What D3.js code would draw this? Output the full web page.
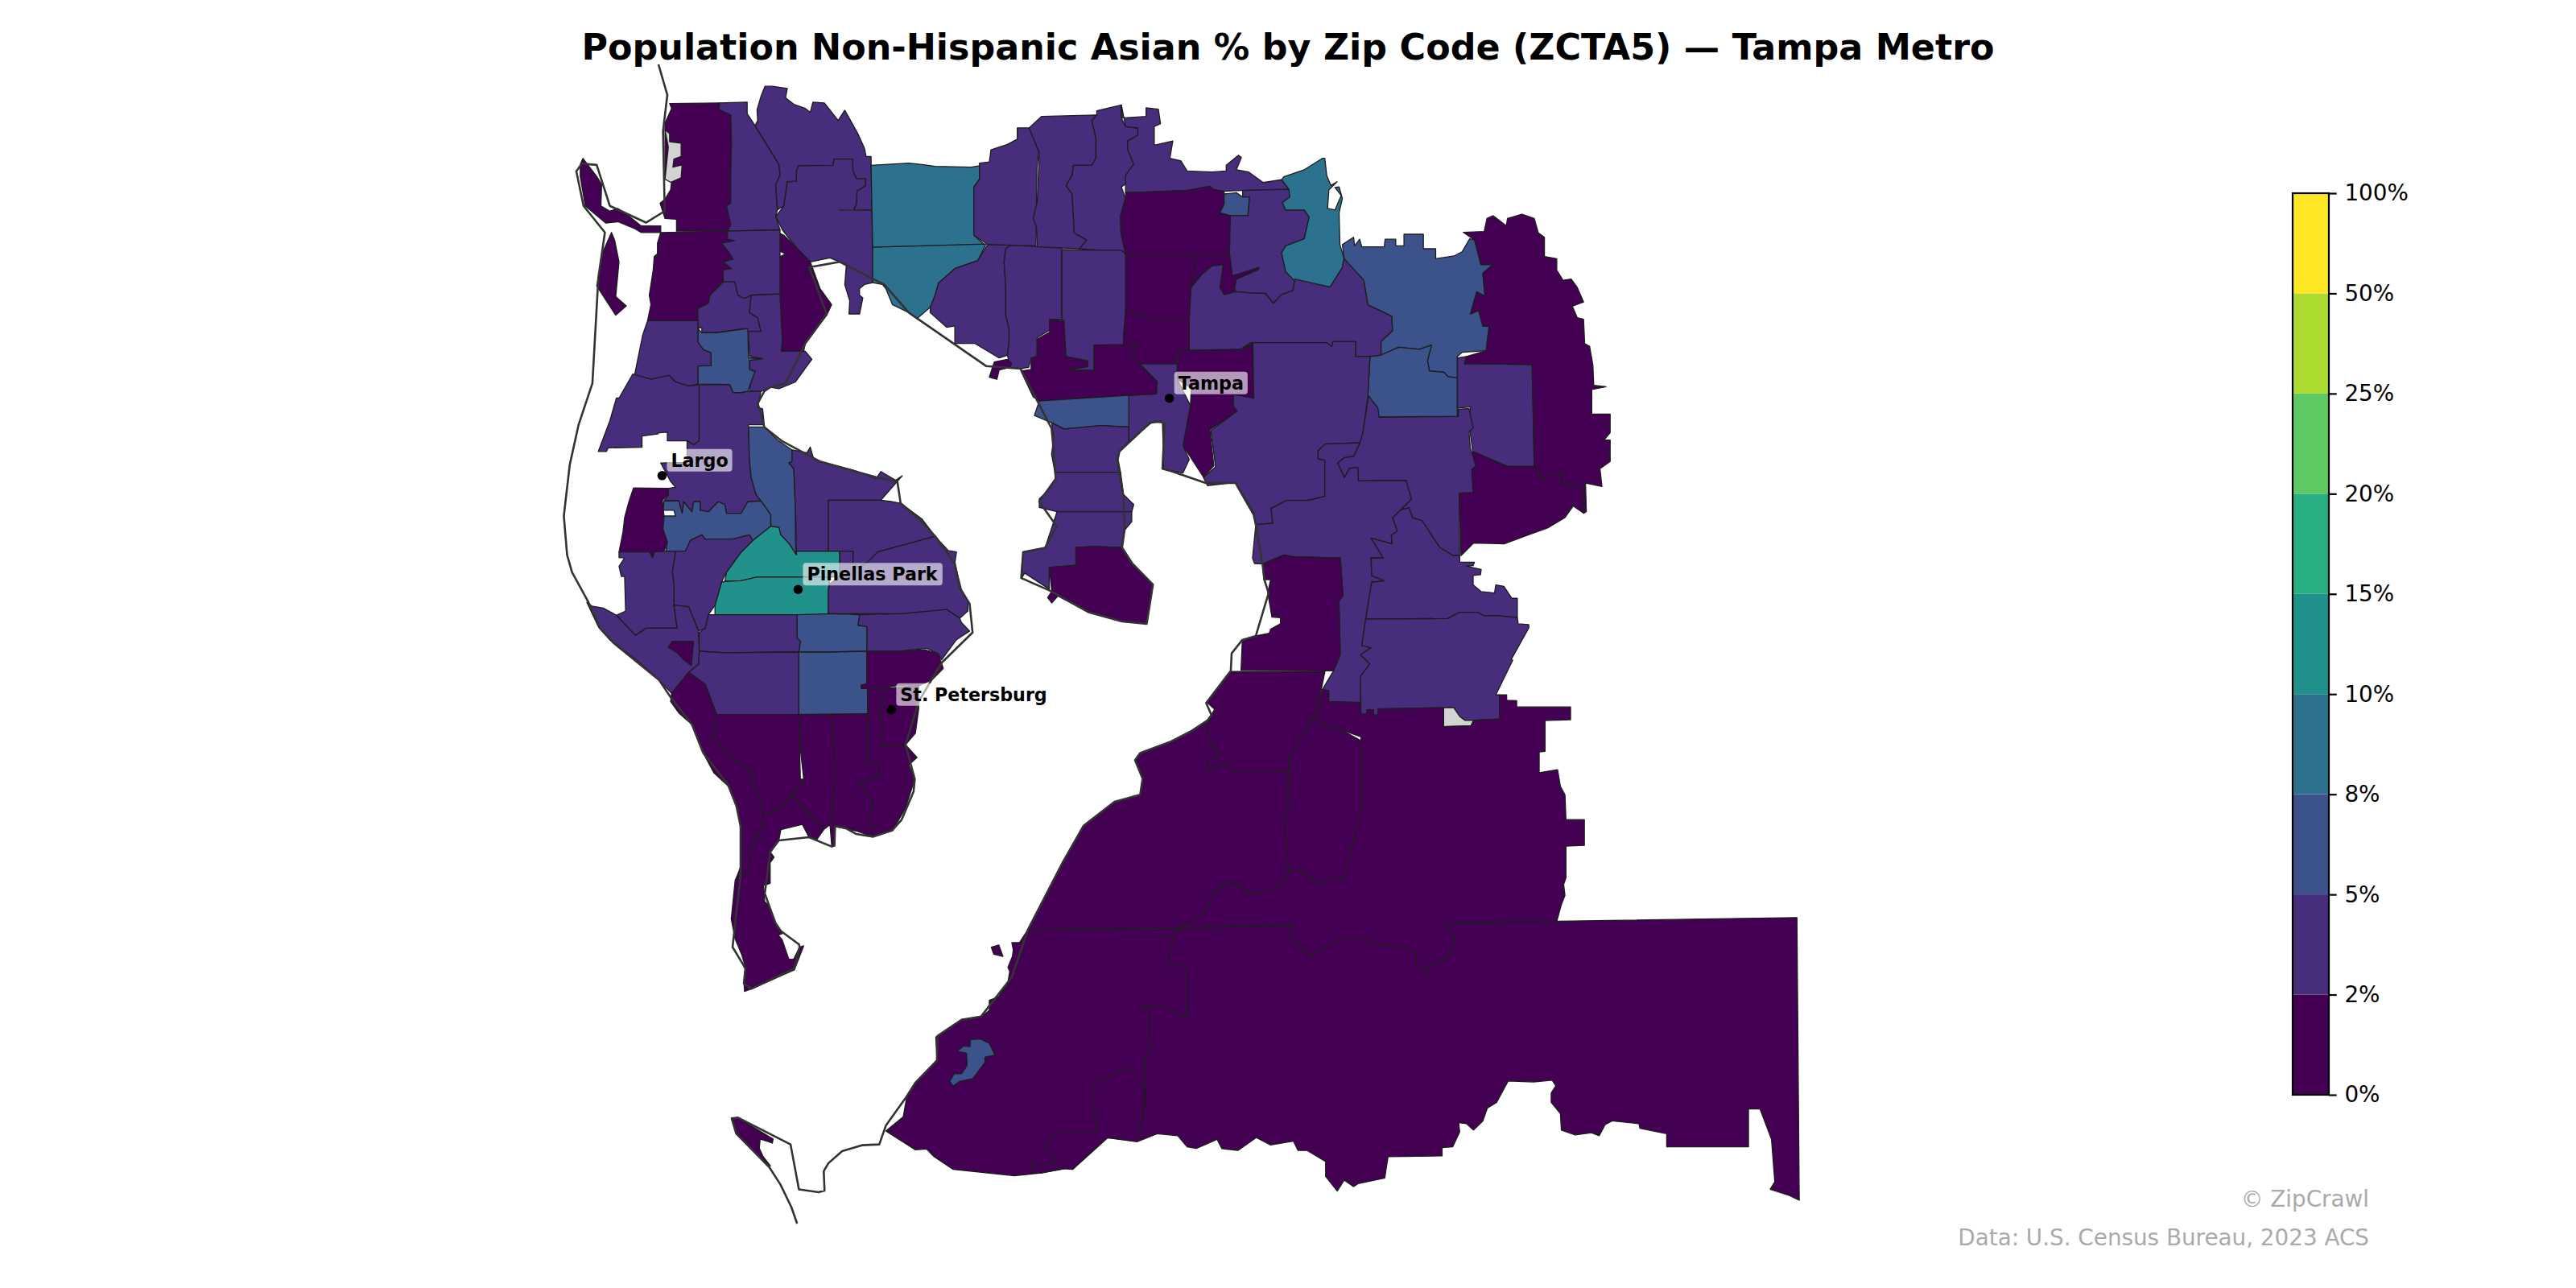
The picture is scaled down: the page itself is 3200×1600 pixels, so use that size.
<!DOCTYPE html>
<html>
<head>
<meta charset="utf-8">
<title>Population Non-Hispanic Asian % by Zip Code</title>
<script src="https://cdn.jsdelivr.net/npm/d3@7"></script>
<style>
  html, body { margin: 0; background: #fff; }
  text { font-family: "DejaVu Sans", sans-serif; }
</style>
</head>
<body>
<svg id="chart" width="3200" height="1600"></svg>
<script>
const chartTitle = "Population Non-Hispanic Asian % by Zip Code (ZCTA5) \u2014 Tampa Metro";
const footerLines = ["\u00a9 ZipCrawl", "Data: U.S. Census Bureau, 2023 ACS"];

// class breaks of the legend
const binEdges = [2, 5, 8, 10, 15, 20, 25, 50];
const binColors = ["#440154", "#472d7b", "#3b528b", "#2c728e", "#21918c", "#28ae80", "#5ec962", "#addc30", "#fde725"];
const tickLabels = ["0%", "2%", "5%", "8%", "10%", "15%", "20%", "25%", "50%", "100%"];
const noDataColor = "#d3d3d3";

// estimated share per zip, same order as zipRings (null = no data)
const zipPct = [
  1.5, 1.5, 1.5, 1.5, null, 3.5, 3.5, 3.5, 1.5, 3.5,
  3.5, 3.5, 6.5, 3.5, 3.5, 3.5, 6.5, 6.5, 12, 12,
  3.5, 3.5, 3.5, 3.5, 6.5, 6.5, 3.5, 3.5, 3.5, 1.5,
  3.5, 3.5, 1.5, 1.5, 1.5, 1.5, 1.5, 1.5, 1.5, 1.5,
  1.5, 9, 9, 3.5, 3.5, 3.5, 3.5, 3.5, 3.5, 1.5,
  6.5, 3.5, 9, 6.5, 6.5, 3.5, 1.5, 1.5, 1.5, 1.5,
  3.5, 1.5, 3.5, 1.5, 1.5, 3.5, 6.5, 1.5, 3.5, 3.5,
  3.5, 1.5, 3.5, 3.5, 3.5, 3.5, 3.5, null, 1.5, 1.5,
  1.5, 1.5, 1.5, 1.5, 1.5, 1.5, 6.5, 1.5, 1.5
];

// zip outlines, flat x,y lists in map units
const zipRings = [
  [407.6,63,438.2,62.7,437.8,66.8,444.8,70,445.2,86.3,444.8,107.4,444.8,123.7,442.2,125.3,444.8,136.7,442.8,140.7,411.8,140.7,411.8,133.4,404.8,133,401.8,123.7,404.8,121.2,408.2,115.5,408.8,110.7,404.8,109,404.8,79.8,404.8,74.9,408.8,66],
  [354.8,96.4,363.2,107.4,366.2,112.3,365.8,125.3,371.2,128.5,376.2,126.9,383.2,131.8,390.2,137.5,402.2,137.5,402.2,141.5,390.2,141.5,386.2,139.1,376.2,135,368.8,135.8,356.2,125.3,353.2,107.4,353.2,100.1],
  [372.2,141.5,374.2,146.4,376.8,159.4,374.8,180.5,381.2,186.2,374.8,191.9,363.2,174,367.2,152.9],
  [402.2,141.5,442.8,140.7,442.8,145.6,447.2,146.4,439.2,148,443.2,152.9,446.2,157.8,440.2,159.4,445.6,163.5,440.2,170.8,436.2,175.7,432.2,179.7,431.2,184.6,424.8,187.8,424.8,195.2,394.2,195.2,396.2,185.4,395.2,179.7,397.6,164.3,398.2,156.2,400.2,154.5,400.2,148],
  [404.8,79,407.6,81.4,407.6,86.3,414.6,87.1,414.6,95.2,410.2,96.8,409.6,101.7,415.2,100.4,414.6,108.2,408.2,111,404.8,109,406.8,89.5],
  [437.8,62.7,454.8,62.2,454.8,69.2,459.6,76.5,474.2,100.1,474.8,106.6,472.2,112.3,473.2,127.7,472.2,131.8,474.8,139.9,442.8,140.7,444.8,136.7,442.2,125.3,444.8,123.7,444.8,107.4,445.2,86.3,444.8,70,437.8,66.8],
  [459.6,76.5,461.2,73.3,460.8,66.8,463.2,58.7,465.6,52.5,470.2,52.5,479.2,53.8,478.2,59.5,483.2,63.5,490.2,66,493.2,68.4,494.8,62.2,501.8,62.7,510.2,73.3,514.2,67.1,522.2,81.4,526.2,90.3,527.2,95.2,530.2,95.2,530.8,128,519.6,127.7,521.2,124.5,521.6,116.3,526.8,113.1,526.8,108.7,521.2,108.7,519.2,104.2,518.8,96.8,507.6,96.8,507.2,100.6,486,100.9,484.8,104.2,484.8,110.3,479.2,110.7,477.2,125.3,473.2,127.7,472.2,112.3,474.8,106.6,474.2,100.1],
  [486,100.9,507.2,100.6,507.6,96.8,518.8,96.8,519.2,104.2,521.2,108.7,526.8,108.7,526.8,113.1,521.6,116.3,521.2,124.5,519.6,127.7,511.2,128,530.8,128,531.2,172.1,526.2,173.2,523.2,175.7,523.2,179.7,525.2,181.3,523.2,191.1,516.8,191.1,517.2,183,514.2,173.2,515.2,161,511.2,159.4,505.2,157,493.2,159.4,485.2,151.3,476.2,139.9,472.2,131.8,477.2,125.3,479.2,110.7,484.8,110.3,484.8,104.2],
  [474.8,142,477.2,143.2,485.2,151.3,493.2,159.4,499.2,175.7,506.2,185.4,503.2,191.9,490.2,209,489.2,213.8,480.2,213.8,475.6,213.8,476.2,208.2,474.8,201.7,474.8,156.2,478.2,154.5,474.8,152.9],
  [442.8,140.7,474.8,139.9,474.8,156.2,474.8,178.9,457.2,179.7,453.2,181.8,449.2,179.7,447.2,171.6,440.2,171.6,440.2,164.3,445.2,163.5,440.2,159.4,446.2,157.8,443.2,152.9,439.2,148,447.2,146.4,442.8,145.6],
  [440.2,171.6,447.2,171.6,449.2,179.7,453.2,181.8,457.2,179.7,456.2,190.3,461.2,193.5,463.2,201.7,455.2,201.7,453.2,200,436.2,202.5,427.2,202.5,427.2,199.2,424.8,200,424.8,187.8,431.2,184.6,432.2,179.7,436.2,175.7],
  [457.2,179.7,474.8,178.9,476.2,208.2,475.6,213.8,490.2,213.8,494.2,218.7,491.2,222.8,484.2,232.5,474.2,236.6,469.2,235.8,463.2,238.2,456.2,238.2,457.2,230.9,459.6,226,456.2,224.4,456.2,217.9,464.2,218.2,456.2,217,455.6,201.7,463.2,201.7,461.2,193.5,456.2,190.3],
  [424.8,200,427.2,202.5,436.2,202.5,455.2,200,455.6,217.9,464.2,218.2,456.2,219.5,456.2,225.2,459.6,226,457.2,232.5,455.2,238.2,451.2,239,446.2,239,444.2,234.1,424.8,233.8,424.8,222.8,432.8,222.5,432.8,214.7,428.2,213,424.8,208.2],
  [394.2,195.2,424.8,195.2,424.8,208.2,428.2,213,432.8,214.7,432.8,222.5,424.8,222.8,424.8,233.8,419.2,235,411.2,232.5,407.2,228.5,396.2,230.9,386.2,228.5,391.2,204],
  [385.2,227.7,396.2,230.9,407.2,228.5,411.2,232.5,419.2,235,425.6,234.2,425.6,268.3,422.2,270.7,418.2,268.3,406.2,268.3,406.2,263.1,401.2,263.4,400.2,264.2,390.8,265.4,390.8,272.3,370.2,272.6,369.2,274.8,364.2,274.8,371.2,256.1,375.2,242.3,376.8,242.3],
  [425.6,234.2,444.2,234.1,446.2,239,451.2,239,455.2,238.2,463.2,238.2,461.2,248,464.2,248.8,465.2,258.5,455.6,258.5,456.2,280,457.2,290.5,460.2,301,463.2,304.9,455.2,305.4,451.2,312.4,442.2,312.4,441.2,307.1,437.2,305.4,431.2,311.5,426.2,310.6,426.2,305.4,422.2,305.4,421.2,311.5,416.2,305.4,415.2,312.4,413.2,304.9,404.2,304.9,406.8,301,406.8,297.2,411.2,296.6,408.2,293.1,402.2,281.8,418.2,281.4,418.2,268.3,422.2,270.7,425.6,268.3],
  [404.2,304.9,413.2,304.9,415.2,312.4,416.2,305.4,421.2,311.5,422.2,305.4,426.2,305.4,426.2,310.6,431.2,311.5,437.2,305.4,441.2,307.1,442.2,312.4,451.2,312.4,455.2,305.4,463.2,304.9,469.2,313.3,469.2,320.3,458.2,329,456.2,325.5,446.2,328.1,429.2,328.1,427.2,325.5,420.2,329,417.2,335.5,405.2,335.5,406.2,329.9,403.2,322,403.6,314.1,411.2,314.1,410.2,310.6,403.6,310.6],
  [455.6,259.9,465.2,259.9,473.2,267.8,482.2,273.9,482.2,280.9,480.2,281.8,483.2,285.3,484.2,310.6,484.2,330.8,484.8,337.8,480.2,330.8,475.2,325.5,474.2,321.1,469.2,320.3,469.2,313.3,463.2,304.9,460.2,301,457.2,290.5,456.2,280],
  [469.2,320.3,474.2,321.1,475.2,325.5,480.2,330.8,484.8,337.8,484.8,335.5,511.2,335.5,511.2,350.9,505.2,351.2,461.2,351.2,451.2,353.5,441.2,353.9,442.2,348.3,451.2,336,458.2,329],
  [441.2,353.9,451.2,353.5,461.2,351.2,505.2,351.2,504.2,358.8,504.2,373.6,493.2,376.3,485.2,374.2,435.2,374.2,435.2,368.4,439.2,354.4],
  [482.2,273.9,491.2,275.6,493.2,272.1,495.2,279.1,499.2,280.9,519.2,286.1,533.2,291.4,536.2,287,545.2,292.3,549.2,289.6,546.8,292.3,536.2,304.5,504.2,304.5,504.2,335.5,484.8,335.5,484.2,310.6,483.2,285.3,480.2,281.8,482.2,280.9],
  [504.2,304.5,536.2,304.5,543.2,305.4,548.2,306.3,561.2,315.9,569.2,326.4,553.2,330.8,534.2,336,528.2,342.1,522.2,345.6,519.2,343,519.2,335.5,511.2,335.5,504.2,335.5],
  [522.2,345.6,528.2,342.1,534.2,336,553.2,330.8,569.2,326.4,577.2,335.1,582.2,336,581.2,343,585.2,358.8,589.2,365.8,589.2,371.9,584.2,376.3,576.2,371,549.2,373.6,523.2,373.6,504.2,373.6,504.2,358.8,505.2,355.3,511.2,350.9,511.2,335.5,519.2,335.5,519.2,343],
  [523.2,374.2,549.2,373.6,576.2,371,584.2,376.3,585.2,378.9,590.2,384.1,582.2,389.4,573.2,401.6,571.2,398.1,564.2,394.6,547.2,396.4,527.6,396.4,527.6,381.5,522.2,380.6],
  [485.2,374.2,504.2,373.6,523.2,374.2,522.2,380.6,527.6,381.5,527.6,396.4,505.2,396.9,486.2,396.9,487.2,390.3,485.2,388.5],
  [486.2,396.9,505.2,396.9,527.6,396.4,528.2,434.4,486.2,434.9],
  [431.2,374.2,485.2,374.2,485.2,388.5,487.2,390.3,486.2,396.9,441.2,397.3,425.6,396.4,425.6,385,429.2,382.4],
  [425.2,396.4,441.2,397.3,486.2,396.9,486.2,434.9,436.2,434.9,429.2,416.5,419.2,409.2,425.2,404.3],
  [411.2,335.5,417.2,335.5,420.2,329,427.2,325.5,429.2,328.1,446.2,328.1,456.2,325.5,458.2,329,451.2,336,442.2,348.3,439.2,354.4,435.2,368.4,431.2,374.2,429.2,382.4,425.2,384.1,419.2,369.3,410.2,368.4,410.2,355.3,409.2,348.3],
  [385.6,297,406.8,297.2,406.8,301,403.2,304.5,404.2,314.1,403.6,322,406.2,329.9,404.2,335.5,398.2,336,397.2,339.5,395.2,336,376.8,336,379.2,323.8,380.2,315,382.8,305.4],
  [376.8,336,395.2,336,397.2,339.5,398.2,336,411.2,335.5,409.2,348.3,410.2,355.3,410.2,368.4,412.2,382.4,393.2,382.4,386.8,386.8,375.2,374.5,380.8,371.9,380.2,350.9,378.2,350.9,376.8,344.8,380.2,339.5,376.8,339.5],
  [357.2,366.6,360.2,368.9,367.2,370.1,375.2,374.5,386.8,386.8,393.2,382.4,412.2,382.4,410.2,368.4,419.2,369.3,425.2,384.1,425.6,396.4,425.2,404.3,419.2,409.2,408.8,422.1,401.2,413.9,387.2,401.6,371.2,389.4,364.2,381.5],
  [409.2,390.3,422.2,390.3,420.8,405.1,416.2,401.6,412.2,397.3,406.8,394.1],
  [527.6,396.4,547.2,396.4,563.2,395.5,571.2,398.1,574.2,406.9,567.2,413.9,559.2,417.4,545.6,417.4,540.2,418.3,536.2,419.1,528.2,419.1,524.2,419.1,524.2,416.9,527.6,416.2],
  [536.2,419.1,559.2,417.4,559.2,431.4,557.2,446.3,551.2,453.3,536.2,454.1],
  [528.2,419.1,536.2,419.1,536.2,454.1,551.2,453.3,558.2,461.1,553.2,465.5,556.8,474.3,551.2,491.8,543.2,505.8,531.2,509.3,529.2,498.8,531.2,486.5,523.2,477.8,535.2,470.8,534.2,464.6,528.2,463.8,528.2,434.4],
  [506.2,434.9,528.2,434.4,528.2,463.8,534.2,464.6,535.2,470.8,523.2,477.8,531.2,486.5,529.2,498.8,531.2,509.3,521.2,505.8,508.2,503.1,506.2,497,508.2,472.5],
  [486.2,434.9,506.2,434.9,508.2,472.5,506.2,497,508.2,503.1,507.9,514.8,506.3,515.3,505.2,502,501.4,505,481.8,483.5,489.2,474.3,487.2,456],
  [436.2,434.9,486.2,434.9,487.2,474.3,489.2,474.3,481.8,483.5,472.8,493.3,464.7,495.7,463.2,490,455.2,467.3,445.2,461.9,433.2,448,435.2,441],
  [408.8,422.1,419.2,409.2,429.2,416.5,436.2,434.9,435.2,441,433.2,448,445.2,461.9,455.2,467.3,463.2,490,464.7,495.7,463.9,502.2,457.7,516.1,454.9,532.5,448.3,534.1,450.8,527.6,450.8,503,448.3,490.8,443.4,478.6,434.5,470.4,427.2,456.8,421.2,441,413.2,434,408.2,427],
  [464.7,495.7,472.8,493.3,481.8,483.5,501.4,505,497.3,510.9,492.4,509.6,488.4,501.8,475.3,505,474,512,468.8,518.6,471.2,521.8,468.8,525.1,468.8,537.7,464.7,539,465.5,548.8,468,551.2,472,561.8,476.1,568.4,473.7,569.2,476.1,572,480.2,583.9,483.1,583.9,486.7,576.5,489.2,575.7,483.5,590.4,457.3,601.9,453.2,603.5,452.8,597.8,453.7,588.8,451.6,581.4,447.5,571.6,445.1,559.4,447.5,535.7,448.3,534.1,454.9,532.5,457.7,516.1,463.9,502.2],
  [530.2,100.6,553.2,99.3,561.2,100.1,569.2,101.2,591.2,101.7,596.2,100.9,596.2,109,592.8,113.9,592.8,143.2,599.2,148.8,531.2,150.5],
  [531.2,150.5,600.2,148.5,595.2,158.6,581.2,163.5,571.2,172.4,569.2,179.7,566.2,187,558.2,193.9,553.2,190.3,543.2,185.4,539.2,175.7,537.2,173.2,531.2,172.1],
  [601.2,148.8,615.2,149.3,612.2,151.3,611.2,159.4,612.2,175.7,612.2,191.9,614.2,200,614.2,208.2,613.2,216.3,608.2,217.9,593.2,209,581.2,209,581.2,198.4,576.2,199.2,566.2,190.3,566.2,187,569.2,179.7,571.2,172.4,581.2,163.5,595.2,158.6],
  [615.2,149.3,631.2,150,646.2,150.5,646.2,194.3,639.2,194.3,639.2,200.8,631.2,205.7,631.2,216.3,627.2,219.5,626.2,223.6,621.2,224.4,615.2,223.6,613.2,216.3,614.2,208.2,614.2,200,612.2,191.9,612.2,175.7,611.2,159.4,612.2,151.3],
  [596.2,99.3,602.2,98.5,603.2,91.2,613.2,87.9,619.2,84.7,619.2,77.8,626.8,77.8,632.2,92,631.2,102.5,630.6,149.7,601.2,148.8,592.8,143.2,592.8,113.9,596.2,109],
  [626.4,77.9,633.9,70.9,667.6,70,664.6,73.5,667.1,84,667.1,96.3,664.6,100.6,653.4,100.6,652.6,106.8,648.9,112.9,652.6,118.1,653.9,141.8,661.4,146.1,657.1,151.4,631.4,150.2,630.9,138.3,628.9,133,631.4,122.5,632.6,92.8],
  [667.6,70,667.6,67.4,682.6,63.9,682.6,71.8,685.1,77,692.6,77.9,692.6,82.3,686.4,85.8,686.4,91,690.1,99.8,688.9,109.4,682.6,113.8,685.1,120.8,682.1,131.3,682.6,143.5,685.1,154,680.1,152.3,670.1,152.3,657.1,151.4,661.4,146.1,653.9,141.8,652.6,118.1,648.9,112.9,652.6,106.8,653.4,100.6,664.6,100.6,667.1,96.3,667.1,84,664.6,73.5],
  [682.6,63.9,682.6,71.8,697.6,70.9,697.6,65.6,705.1,66.5,706.4,75.3,702.6,77,702.6,88.4,713.9,85.8,712.1,96.3,718.9,98,722.6,104.1,737.6,104.7,746.4,104.1,746.4,100.6,753.9,94.5,755.6,95.9,752.6,103.3,760.1,104.7,768.9,111.1,780.1,109.4,784.6,115.2,756.4,115.9,745.1,116.4,738.9,115.5,736.4,113.4,722.6,115.9,685.1,117.3,685.1,106.8,690.1,99.8,686.4,91,686.4,85.8,692.6,82.3,692.6,77.9,685.1,77],
  [685.1,117.3,722.6,115.9,736.4,113.4,738.9,115.5,745.1,116.4,745.1,124.3,742.6,129.5,748.9,131.3,748.4,154.9,685.1,154.9,682.1,140,682.1,131.3,685.1,120.8],
  [745.1,118.1,752.6,117.3,756.4,119.9,760.6,119.9,759.6,131.3,748.9,131.3,742.6,129.5,745.1,124.3],
  [756.4,115.9,784.6,115.2,785.1,119.9,780.6,123.4,782.6,127.8,793.9,127.8,796.9,132.1,793.9,145.3,782.6,149.6,780.1,154,782.6,165.4,788.1,169.8,787.1,176.8,780.1,179.4,775.1,184.6,770.1,178.5,763.9,178.5,752.1,177.6,751.4,175,752.6,169.8,765.6,164.2,766.4,162.8,750.1,168,748.4,154.9,748.9,131.3,759.6,131.3,760.6,119.9,756.4,119.9],
  [781.4,107.6,793.9,103.3,805.1,96.3,806.4,96.3,807.6,106.8,810.1,112.9,813.9,110.6,808.9,115.5,808.1,126.9,812.6,127.8,816.4,119,812.6,114.1,815.1,113.8,817.1,120.8,815.1,129.5,815.6,148.8,818.1,157.5,817.1,162.8,809.6,174.7,787.6,170.6,782.6,165.4,780.1,154,782.6,149.6,793.9,145.3,796.9,132.1,793.9,127.8,782.6,127.8,780.6,123.4,785.1,119.9,784.6,115.2,780.1,109.4],
  [817.1,148.8,823.9,144.4,824.6,149.6,827.6,145.6,828.9,150.2,842.6,150.2,843.1,145.6,849.6,145.6,849.6,149.6,854.6,149.6,854.6,142.6,866.4,142.6,866.4,151.4,873.9,151.4,873.9,157.5,885.1,155.8,890.1,153.1,894.6,145.3,897.6,146.1,901.4,161,908.9,161,902.6,166.3,903.9,180.3,898.9,177.6,895.1,191.1,900.1,189,902.6,198.6,906.4,198.6,904.6,213.5,890.1,214.4,887.1,217,887.1,230.1,881.4,229.3,878.9,226.6,870.1,225.8,868.9,219.6,871.4,210,863.9,212.6,851.4,211.4,840.6,216.1,840.6,207.9,847.6,201.3,847.1,192.5,832.6,185.5,830.1,170.6,818.1,157.5],
  [840.6,216.1,851.4,211.4,863.9,212.6,871.4,210,868.9,219.6,870.1,225.8,878.9,226.6,881.4,229.3,887.1,230.1,887.1,253.4,838.9,253.8,837.6,248.5,833.9,247.6,832.6,241.5,833.9,217],
  [887.1,217.9,892.6,217,891.4,221.4,901.4,221.4,932.6,221.9,933.9,283.9,917.6,283.9,896.4,274.8,893.9,255.5,895.1,247.6,887.1,248.5],
  [890.6,141.4,903.4,140.9,905.1,133,908.9,131.3,916.9,137.4,917.6,133,926.4,130.4,933.9,133,936.4,141.8,940.1,144.4,940.1,156.1,947.6,157.5,947.6,164.5,951.4,170.6,956.4,169.8,960.1,175,963.9,183.8,957.1,186.4,960.1,193.4,963.9,194.3,964.6,209.1,967.6,210.9,969.6,222.3,970.1,234.5,977.6,235.4,968.9,237.1,968.9,252,980.1,252,980.1,263.4,976.4,267.8,980.1,267.8,980.1,280.9,973.9,285.3,975.1,296.1,965.1,294,965.6,311.5,963.9,312.4,962.6,295.4,950.6,294,950.1,287,937.6,291.4,936.4,284.4,933.9,283.9,932.6,221.9,901.4,221.4,891.4,221.4,892.6,217,904.6,213.5,906.4,198.6,902.6,198.6,900.1,189,895.1,191.1,898.9,177.6,903.9,180.3,902.6,166.3,908.9,161,901.4,161,897.6,146.1],
  [896.4,274.8,917.6,283.9,933.9,283.9,936.4,284.4,937.6,291.4,950.1,287,950.6,294,962.6,295.4,963.9,312.4,957.6,308,952.6,315,942.6,321.1,928.4,326.3,915.9,331,897,330.5,889.3,338.3,888.7,313.6,888.1,300.1,895.6,299.6],
  [685.1,154.9,723.9,154.9,727.6,161,725.1,175,723.9,193.9,702.6,194.3,692.6,190.8,685.1,189],
  [723.9,154.9,748.4,154.9,750.1,168,766.4,162.8,765.6,164.2,752.6,169.8,751.4,175,752.1,177.6,745.1,179.4,742.6,175,744.6,161,737.6,161.9,731.4,167.1,725.1,175,727.6,161],
  [725.1,175,731.4,167.1,737.6,161.9,744.6,161,742.6,175,745.1,179.4,752.1,177.6,763.9,178.5,770.1,178.5,775.1,184.6,780.1,179.4,787.1,176.8,788.1,169.8,809.6,174.7,817.1,162.8,818.1,157.5,830.1,170.6,832.6,185.5,847.1,192.5,847.6,201.3,840.6,207.9,840.6,216.1,833.9,217,825.1,217,825.1,207.9,811.4,207.9,810.6,210.9,807.6,208.6,761.4,208.6,755.1,212.6,723.9,213.2,723.9,193.9],
  [716.8,213.5,756.4,212.6,762.6,209.1,763.1,242.4,751.4,241.5,753.1,250.3,736.4,261.6,738.9,283.5,732.6,290.5,720.1,271.3,724.6,246.8,725.1,236.3,716.8,231],
  [693.9,221.4,716.4,221.4,716.8,231,724.6,246.8,720.1,271.3,723.9,279.7,720.1,287.9,708.4,285.6,707.6,257.3,701.4,256.9,687.1,268.6,687.1,240.6,703.9,239.8,704.4,232.4],
  [685.1,189,692.6,190.8,702.6,194.3,723.9,193.9,723.9,213.2,716.4,213.2,716.4,221.4,693.9,221.4,688.9,217,693.9,209.7,683.9,209.7,683.9,203.9],
  [638.9,194.6,647.6,195.1,648.9,217,662.1,219.6,662.1,223.1,650.1,225.4,665.9,225.4,665.9,210,693.9,209.7,688.9,217,703.9,231.9,703.9,239.8,687.1,240.6,632.6,244.1,628.9,241.5,621.4,225.8,627.6,224.9,627.6,217.9,631.4,217,631.4,206.5,638.9,202.1],
  [646.4,151.9,670.1,152.3,682.6,152.3,685.1,154.9,685.1,189,683.9,203.9,683.9,209.7,665.9,210,665.9,225.4,650.1,225.4,662.1,223.1,662.1,219.6,648.9,217,647.6,195.1,646.4,195.1],
  [632.6,244.1,687.1,240.6,687.1,259.9,670.1,259,647.6,261.1,640.1,257.3,629.6,252.9],
  [605.2,220.3,613.2,218.7,615.8,221.2,614.8,223.6,608.2,225.2,606.8,230.9,602.2,229.6],
  [640.1,257.3,647.6,261.1,670.1,259,687.1,259.9,687.1,268.6,681.4,274.8,680.6,280,682.1,287.4,642.1,287.4,640.1,276.5,641.4,266],
  [642.1,287.4,682.1,287.4,683.9,301,690.1,307.1,688.9,311.5,643.4,311.5,632.6,308.9,632.6,303.6,638.9,297.5,642.6,291.4],
  [643.4,311.5,688.9,311.5,688.9,317.6,683.9,323.4,683,333.3,665.9,332.7,654.9,333.3,654.9,344,638.7,345.4,638.7,358.6,623.7,348.8,622.1,351.6,622.7,336.1,636.2,333.3],
  [654.9,333.3,665.9,332.7,683,333.3,689.3,343.1,701.8,355.8,698,379.7,683,378.3,662.7,372.7,644,362.8,640.2,367,637.7,363.7,640.2,360,638.7,345.4,654.9,344],
  [755.1,212.6,761.4,208.6,807.6,208.6,810.6,210.9,811.4,207.9,825.1,207.9,825.1,217,833.9,217,832.6,241.5,829.7,263,827.8,269.5,806.4,270.3,802.3,274.4,802.3,279.3,806.4,280.1,806.4,302.2,799.5,303.8,795.4,304.6,783.2,304.6,773.7,309.5,774.7,318.5,764.4,319.3,763.1,312,752.1,293.7,735,295.6,732.5,290.7,739.9,284.2,737,262.1,753,250.2,750.8,247.4,750.8,240.1,763.1,242.4,762.6,209],
  [839.5,254,887.7,253.5,887.7,249.1,894.2,248.6,896.7,260.5,894.2,263,895,272.8,898.3,283.4,895.8,285.8,896.7,299.7,888.2,300.2,888.5,338.1,884.4,338.1,876.3,333.2,865.6,316.9,859.9,315.2,857.5,309,852.6,310.3,859.1,303.8,855.8,292.4,826.8,292.7,826.4,284.5,821.5,285,818.3,290.7,814.2,281.7,818.3,278.5,824,277.7,827.8,269.5,829.7,263,833,240.9,838.7,248.3],
  [806.4,270.3,827.8,269.5,824,277.7,818.3,278.5,814.2,281.7,818.3,290.7,821.5,285,826.4,284.5,826.8,292.7,855.8,292.4,859.1,303.8,852.6,310.3,847.7,315.2,850.6,323.4,846.9,325.8,847.3,331.1,834.6,327.5,842,339.7,834.6,339.7,834.9,350.3,842.8,353.6,834.9,354.4,831.3,376.5,828.9,392.8,834.6,394.4,828.1,398.5,833.8,404.2,828.4,411.6,828.1,427.6,808.8,427.1,808.8,420.5,804.9,419.7,811.7,408.3,815.8,398.5,815,365.8,817.5,362.6,815.8,339.7,787.3,338.9,781.5,337.8,768.5,343.3,763.6,343,762.4,339.7,764.4,319.3,774.7,318.5,773.7,309.5,783.2,304.6,795.4,304.6,799.5,303.8,806.4,302.2,806.4,280.1,802.3,279.3,802.3,274.4],
  [852.6,310.3,857.5,309,859.9,315.2,865.6,316.9,876.3,333.2,884.4,338.1,888.5,338.1,888.5,342.2,897.5,342.2,896.7,344.3,892.6,344.6,901.6,346.6,901.2,349.8,896.7,350.3,896.7,356,901.6,360.1,909.7,360.9,910.5,356,915.4,356.9,920.3,364.2,923.6,364.2,923.6,376,912.2,374.8,903.2,374.8,899.1,372.7,888.5,372.7,881.1,376.5,831.3,376.9,834.9,354.4,842.8,353.6,834.9,350.3,834.6,339.7,842,339.7,834.6,327.5,847.3,331.1,846.9,325.8,850.6,323.4,847.7,315.2],
  [831.3,376.9,881.1,376.5,888.5,372.7,899.1,372.7,903.2,374.8,912.2,374.8,923.6,376,924.1,379.7,930.6,380.2,930.6,382.2,919.9,401.4,920.8,401.8,910.5,423,912.7,423,912.7,437.7,896.7,438.5,891.8,438.5,888.5,436.1,884.9,430.8,878.7,430.8,838.7,431.5,838.7,435.2,836.2,435.2,835.9,432,832.2,432,831.7,434.4,828.4,434.4,828.1,411.6,833.8,404.2,828.1,398.5,834.6,394.4,828.9,392.8],
  [878.7,430.8,884.9,430.8,888.5,436.1,891.8,438.5,897,438.5,895.4,441.8,878.7,442.3],
  [768.5,343.3,781.5,337.8,787.3,338.9,815.8,339.7,817.5,362.6,815,365.8,815.8,398.5,811.7,408.3,755.4,408,756.2,389.5,764.4,387.1,772.6,385.4,773.4,383,779.4,379.7,779.4,376,774.2,375.6,771.7,361,773.4,352.8,769.3,352.8],
  [748.7,408.7,806.5,408.7,801.8,431.7,784.6,461.3,784,469.7,750.2,469.7,749.6,465.5,742.4,465.5,735.2,470.3,734.6,462.7,742.4,459.9,736.2,451.4,734.6,440.2,739.3,431.7,734.6,427.5],
  [736.2,438.8,712.7,451.4,694,458.4,690.9,462.7,695.5,473.9,694,483.8,678.4,488,659.6,502.6,647.1,524.5,625.7,565.9,719,564.5,733,555.5,739.3,542,750.2,537.2,762.7,544.2,778.4,540,784.6,530.2,781.5,499.2,784,490.8,784,469.7,750.2,469.7,749.6,465.5,742.4,465.5,735.2,470.3,734.6,462.7,742.4,459.9,736.2,451.4,734.6,440.2],
  [784.6,461.3,801.8,431.7,802.8,439.3,816.6,444.2,828.4,450.8,828.4,496.4,817.4,534.4,803.4,537.2,790.9,530.2,784.6,530.2,781.5,499.2,784,490.8],
  [804.9,419.7,808.8,420.5,808.8,427.1,828.1,427.6,828.4,434.4,831.7,434.4,832.2,432,835.9,432,836.2,435.2,838.7,435.2,838.7,431.5,878.7,430.8,878.7,442.3,895.4,441.8,897,438.5,912.7,437.7,912.7,423,917.1,423,917.1,426.2,923.2,426.5,923.2,430.3,956,430.3,956,438.1,940.5,438.6,940.5,457.3,936.9,457.7,936.9,470.3,948.1,468.5,949.8,478.6,952.6,483.8,953.2,498.9,964.4,498.9,964.4,514.6,953.2,515,953.2,534.2,951.8,538.3,952.6,545,950.4,550.6,947.6,560.8,887.1,561.9,880.1,562.6,885.7,572,881.5,583.3,870.2,587.8,868.8,591.8,861.8,586.6,861.8,579.9,856.2,576.5,835.1,574.3,832.3,571.3,815.4,571.3,797.1,582.1,784.4,569.8,786.7,563.5,719,564.5,733,555.5,739.3,542,750.2,537.2,762.7,544.2,778.4,540,784.6,530.2,790.9,530.2,803.4,537.2,817.4,534.4,828.4,496.4,828.4,448.6,816.6,444.2,802.8,439.3,801.8,431.7],
  [947.6,560.8,1093.8,558.5,1095.2,730.6,1088.2,727.3,1077.5,723.9,1080.3,719.4,1078.3,693.5,1071.3,675,1064.3,675,1064.3,698,1014.5,698,1014.5,690.1,998.2,686.8,997.6,684,981.3,682.3,977.1,684.5,973.4,691.3,968.7,689.5,958.8,690.8,950.4,687.9,949.8,677.8,944.2,671,944.2,665.4,947,660.9,944.8,657.5,933.5,658.6,918,658,911,671,905.4,674.4,902.6,682.3,896.9,687.9,892.7,684,887.9,683.4,888.5,689,884.3,698,877.8,698.5,877.8,703.6,844.9,704.1,842.9,717.1,826.6,720.5,823.8,722.3,818.2,718.3,814,725,806.9,716,806.9,707,795.7,700.3,790.1,700.3,787.3,694.6,773.2,696.9,764.8,692.4,753.5,700.3,743.7,699.1,740.8,693.5,728.2,699.1,722.6,698,716.9,691.3,704.3,690.1,693,694.6,692.2,694.6,696.7,673.3,696.7,644,700.1,639.5,699.5,615.9,695.8,612.5,707.1,612,722.6,619.3,722.6,590,718.3,587.3,709.9,588.2,714.1,572,712.7,569.8,719.8,564.8,786.7,563.5,784.4,569.8,797.1,582.1,815.4,571.3,832.3,571.3,835.1,574.3,856.2,576.5,861.8,579.9,861.8,586.6,868.8,591.8,870.2,587.8,881.5,583.3,885.7,572,880.1,562.6,887.1,561.9],
  [625.7,565.9,719.8,564.8,712.7,569.8,714.1,572,709.9,588.2,718.3,587.3,722.6,590,722.6,619.3,707.1,612,695.8,612.5,699.5,615.9,700.1,639.5,696.7,644,696.7,673.3,692.2,694.6,674.2,692.5,652.8,711.8,648.3,711.3,633.7,714,617.5,715.7,580.2,711.8,568.5,704,564,699.4,557.2,699.9,539.2,688.4,549.8,679.8,552,667.2,557.2,659,570.3,645.5,569.6,631.3,585.3,620.7,597.7,618.7,602.2,615,602.2,608.9,607.8,606.8,613.5,597.8,614.6,591.3,613.5,588.8,616.2,582.3,616.8,578.2,615.9,573.8,620.5,573.8],
  [628.1,714,628.1,707.2,634.8,709.2,641.6,707.2,641.6,705.6,636,699.9,639.3,693.3,643.2,689.2,668.6,689.2,666.3,679.4,665.9,659.9,684.3,650.5,688.8,650.9,692.2,658.2,696.2,662.3,696.2,674.5,692.2,695,674.2,692.5,652.8,711.8,648.3,711.3,633.7,714],
  [590.5,632.9,596.6,632.4,602.2,635,605.6,642.2,599.5,643.5,599.5,646.8,592.1,656.6,584.2,658.2,580.2,661,578.1,658.2,580.8,653.6,585.3,653.6,588.7,648.4,588.3,641.1,582.4,639.9,586.5,636.7,590.5,637],
  [603.4,576.6,608,575.2,610.5,582.2,604.9,580.8],
  [445.4,680.8,448.8,680.3,470.6,693.3,470.1,695.8,462.7,693.3,462.2,699,464.5,704,469,709.7,467.2,708.8,448.1,690]
];

// shoreline drawn over the zips, flat x,y list in map units
const shoreline = [
  400.8,39.2,406.2,57.8,403.6,79.8,404.6,128.5,393.2,135.5,371.2,125.3,363.2,100.4,354.2,99.6,350.8,104.2,355.2,125.3,368.2,141.5,364.2,169.2,360.6,233.3,352.2,258.5,346.8,282.9,343.2,314.1,345.2,337.8,348.2,348.3,358.2,366.6,365.2,382.4,373.2,391.1,401.2,413.9,408.2,424.4,421.2,441,428.2,458.5,443.2,477.8,448.3,490.8,450.8,503,450.8,532.5,445.9,576.5,452.4,587.2,453.7,589.6,452.8,598.6,457.3,601.9,483.5,589.6,486.7,576.5,486.4,574.9,475.3,566.7,472,561.8,465.5,543.9,468.8,518.6,474,511.6,492.4,509.6,506.3,515.3,507.9,514.8,508.3,503,514.5,503.9,521,507.6,531.6,509.3,543,505.5,548.8,499,556.1,481.8,556.8,474.3,551.2,453.3,559.2,427,573.2,403.4,592,385,590.2,367.5,584.2,357.9,581.2,343,569.2,326.4,559.2,315.9,548.2,306.3,546.2,293.1,533.2,290.5,499.2,280.9,489.2,275.6,476.2,268.6,465.2,259.9,462.2,248.8,461.2,245.5,465.2,238.2,468.6,235.8,478.2,233.3,490.2,209,503.2,191.1,492.6,162.7,511.2,159.4,538.2,173.2,553.2,190.3,600.2,222.8,621.2,224.4,640.1,260.8,641.4,274.8,642.6,291.4,632.6,305.4,643.2,320.3,636.2,333.4,622.8,336,621.6,351.8,639.2,359.6,662.7,372.7,683,378.3,698,379.7,701.8,355.8,689.3,343.1,683,333.3,684.6,322,683.9,302.8,680.1,280,681.4,274.8,700.1,257.3,706.4,256.4,708.9,258,707.6,285.3,712.6,286.7,733.9,294,752.1,294,763.1,313.3,764.4,319.3,768.5,343.3,769.6,352.8,772.2,361,764.4,387.1,756.2,389.5,749.7,397.7,749.2,408.3,734.2,427.9,737.4,435.2,735,438.5,725.2,445,712.7,451.4,694,458.4,690.9,462.7,695.5,473.9,694,483.8,678.4,488,659.6,502.6,647.1,524.5,625.7,565.9,615.8,594.9,597.1,618.8,585.3,620.7,570.7,630.5,570.3,645.5,557.2,659,552,667.2,539.2,685.2,535.2,696.6,524.6,697.1,512.6,700.7,504.3,708,501.4,712.9,501.9,724.7,498.3,725.7,486.3,724,481.2,696.6,449.2,680.3,445.4,680.8,448.1,690,468.3,710.5,475.1,721.1,481.8,735,485.2,744.8
];

const cityNames = ["Largo", "Pinellas Park", "St. Petersburg", "Tampa"];
const cityX = [403, 485.8, 542.6, 711.8];
const cityY = [289.5, 358.8, 432, 242.4];

const width = 3200, height = 1600;
const svg = d3.select("#chart");

function toPairs(flat) {
  const out = [];
  for (let i = 0; i < flat.length; i += 2) out.push([flat[i], flat[i + 1]]);
  return out;
}

// map units were traced on a 1568 wide grid
const projection = d3.geoIdentity().scale(width / 1568);
const path = d3.geoPath(projection);

const zipFeatures = zipRings.map((flat, i) => {
  const ring = toPairs(flat);
  ring.push(ring[0]);
  return { type: "Feature", properties: { pct: zipPct[i] }, geometry: { type: "Polygon", coordinates: [ring] } };
});

const color = d3.scaleThreshold().domain(binEdges).range(binColors);

svg.append("g").selectAll("path")
  .data(zipFeatures)
  .join("path")
  .attr("d", path)
  .attr("fill", d => d.properties.pct == null ? noDataColor : color(d.properties.pct))
  .attr("stroke", "#1c1c1c")
  .attr("stroke-width", 1.3)
  .attr("stroke-linejoin", "round");

svg.append("path")
  .datum({ type: "LineString", coordinates: toPairs(shoreline) })
  .attr("d", path)
  .attr("fill", "none")
  .attr("stroke", "#333")
  .attr("stroke-width", 2.6)
  .attr("stroke-linejoin", "round");

// cities
const cities = cityNames.map((name, i) => ({ name, p: projection([cityX[i], cityY[i]]) }));

svg.append("g").selectAll("circle")
  .data(cities)
  .join("circle")
  .attr("cx", d => d.p[0])
  .attr("cy", d => d.p[1])
  .attr("r", 5.8)
  .attr("fill", "#000");

const labels = svg.append("g").selectAll("g")
  .data(cities)
  .join("g")
  .attr("transform", d => `translate(${d.p[0] + 11},${d.p[1] - 11})`);

const labelText = labels.append("text")
  .attr("font-size", 22.2)
  .attr("font-weight", "bold")
  .attr("fill", "#000")
  .text(d => d.name);

labels.insert("rect", "text")
  .each(function () {
    const b = this.parentNode.querySelector("text").getBBox();
    d3.select(this)
      .attr("x", b.x - 5).attr("y", b.y - 1)
      .attr("width", b.width + 10).attr("height", b.height + 2);
  })
  .attr("rx", 4)
  .attr("fill", "#fff")
  .attr("fill-opacity", 0.6);

// title
svg.append("text")
  .attr("x", 1600)
  .attr("y", 74)
  .attr("text-anchor", "middle")
  .attr("font-size", 44.4)
  .attr("font-weight", "bold")
  .text(chartTitle);

// colour bar
const barLeft = 2848, barWidth = 45;
const barScale = d3.scalePoint().domain(tickLabels).range([1360, 240]);
const barAxis = d3.axisRight(barScale).tickSize(9.7).tickPadding(9.7);

const bar = svg.append("g");
bar.append("g").selectAll("rect")
  .data(binColors)
  .join("rect")
  .attr("x", barLeft)
  .attr("width", barWidth)
  .attr("y", (d, i) => barScale(tickLabels[i + 1]))
  .attr("height", (d, i) => barScale(tickLabels[i]) - barScale(tickLabels[i + 1]))
  .attr("fill", d => d);

bar.append("rect")
  .attr("x", barLeft)
  .attr("y", 240)
  .attr("width", barWidth)
  .attr("height", 1120)
  .attr("fill", "none")
  .attr("stroke", "#000")
  .attr("stroke-width", 2.2);

const axisG = bar.append("g")
  .attr("transform", `translate(${barLeft + barWidth},0)`)
  .call(barAxis);
axisG.select(".domain").remove();
axisG.selectAll("line").attr("stroke", "#000").attr("stroke-width", 2.2);
axisG.selectAll("text")
  .attr("font-size", 27.8)
  .attr("font-family", "DejaVu Sans")
  .attr("fill", "#000");

// footer
svg.append("g").selectAll("text")
  .data(footerLines)
  .join("text")
  .attr("x", 2943)
  .attr("y", (d, i) => 1499 + i * 48)
  .attr("text-anchor", "end")
  .attr("font-size", 27.8)
  .attr("fill", "#aaa")
  .text(d => d);
</script>
</body>
</html>
